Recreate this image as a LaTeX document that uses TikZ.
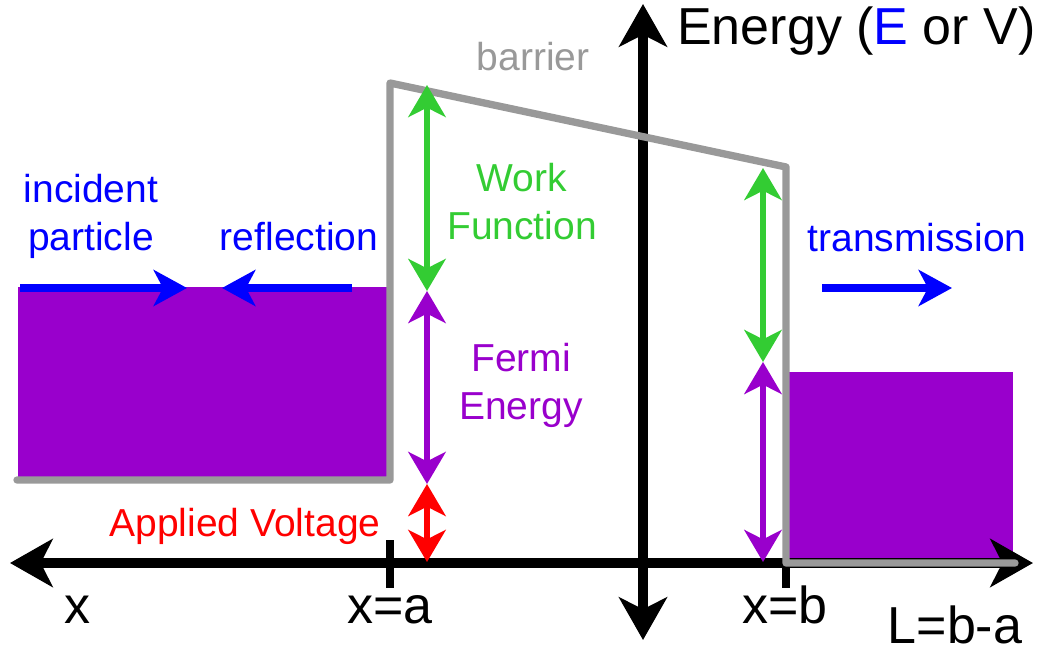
\documentclass[tikz,border=0pt]{standalone}
\usepackage{fontspec}
\setmainfont{Liberation Sans}
\usetikzlibrary{arrows.meta}
\definecolor{cpurple}{HTML}{9900CC}
\definecolor{cgreen}{HTML}{33CC33}
\definecolor{cred}{HTML}{FF0000}
\definecolor{cblue}{HTML}{0000FF}
\definecolor{cgray}{HTML}{999999}
\tikzset{
  lbl/.style={inner sep=0pt, anchor=base, align=center, font=\fontsize{29.25}{36}\selectfont},
  axlbl/.style={inner sep=0pt, anchor=base, font=\fontsize{39}{46}\selectfont},
  axisline/.style={line width=7.5pt, black, {Stealth[length=32pt,width=36pt,inset=9pt]}-{Stealth[length=32pt,width=36pt,inset=9pt]}},
  tickline/.style={line width=5.5pt, black},
  barrierline/.style={line width=5.5pt, cgray, line cap=round, line join=round},
  bluearrow/.style={line width=6pt, cblue, -{Stealth[length=25pt,width=27pt,inset=7pt]}},
  dblarrow/.style={line width=5pt, {Stealth[length=24pt,width=28pt,inset=7pt]}-{Stealth[length=24pt,width=28pt,inset=7pt]}},
  sea/.style={fill=cpurple, draw=none}
}
\begin{document}
\begin{tikzpicture}[x=0.75pt,y=-0.75pt]
\useasboundingbox (0,0) rectangle (1049,652);
% filled levels
\fill[sea] (18,287) rectangle (387,477);
\fill[sea] (789,372) rectangle (1013,561);
% axes
\coordinate (xl) at (10,563);
\coordinate (xr) at (1033,563);
\coordinate (yt) at (643,4);
\coordinate (yb) at (643,640);
\draw[axisline] (xl) -- (xr);
\draw[axisline] (yb) -- (yt);
% ticks
\coordinate (ta1) at (390,540); \coordinate (ta2) at (390,588);
\coordinate (tb1) at (786,563); \coordinate (tb2) at (786,588);
\draw[tickline] (ta1) -- (ta2);
\draw[tickline] (tb1) -- (tb2);
% barrier
\coordinate (b0) at (17,480);
\coordinate (b1) at (390,480);
\coordinate (b2) at (390,83);
\coordinate (b3) at (786,167);
\coordinate (b4) at (786,563);
\coordinate (b5) at (1015,563);
\draw[barrierline] (b0) -- (b1) -- (b2) -- (b3) -- (b4) -- (b5);
% blue arrows
\coordinate (inc0) at (20,288); \coordinate (inc1) at (187,288);
\coordinate (ref0) at (352,288); \coordinate (ref1) at (222,288);
\coordinate (tr0) at (822,288); \coordinate (tr1) at (952,288);
\draw[bluearrow] (inc0) -- (inc1);
\draw[bluearrow] (ref0) -- (ref1);
\draw[bluearrow] (tr0) -- (tr1);
% left energy arrows
\coordinate (lw0) at (427,85); \coordinate (lw1) at (427,291);
\coordinate (lf1) at (427,484);
\coordinate (lv1) at (427,562);
\draw[dblarrow, cgreen] (lw0) -- (lw1);
\draw[dblarrow, cpurple] (lw1) -- (lf1);
\draw[dblarrow, cred] (lf1) -- (lv1);
% right energy arrows
\coordinate (rw0) at (763,168); \coordinate (rw1) at (763,362);
\coordinate (rf1) at (763,562);
\draw[dblarrow, cgreen] (rw0) -- (rw1);
\draw[dblarrow, cpurple] (rw1) -- (rf1);
% labels
\node[axlbl, anchor=base west] (energy) at (677,45) {Energy (\textcolor{cblue}{E} or V)};
\node[lbl, cgray] (barrier) at (533,71) {barrier};
\node[lbl, cblue] (incident) at (91,251) {incident\\particle};
\node[lbl, cblue] (reflection) at (299,251) {reflection};
\node[lbl, cblue] (transmission) at (917,252) {transmission};
\node[lbl, cgreen] (work) at (522,240) {Work\\Function};
\node[lbl, cpurple] (fermi) at (521,419) {Fermi\\Energy};
\node[lbl, cred] (voltage) at (245,536) {Applied Voltage};
\node[axlbl] (xlab) at (77,623) {x};
\node[axlbl] (xa) at (390,623) {x=a};
\node[axlbl] (xb) at (785,623) {x=b};
\node[axlbl] (L) at (955,643) {L=b-a};
\end{tikzpicture}
\end{document}
